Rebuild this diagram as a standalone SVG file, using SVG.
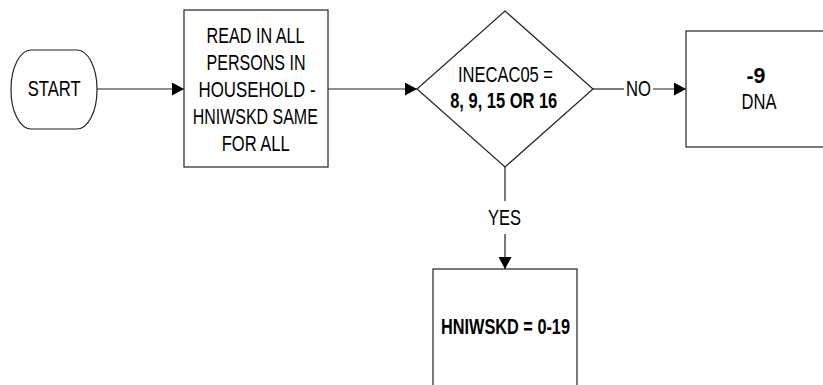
<svg xmlns="http://www.w3.org/2000/svg" width="823" height="385" viewBox="0 0 823 385">
<style>
.shape{fill:#fff;stroke:#222;stroke-width:1.2}
.line{fill:none;stroke:#222;stroke-width:1.2}
text{font-family:"Liberation Sans",Arial,sans-serif;font-size:22px;fill:#000;text-anchor:middle}
.b{font-weight:bold}
</style>
<defs>
<marker id="arr" viewBox="0 0 12 13" refX="12" refY="6.5" markerWidth="12" markerHeight="13" markerUnits="userSpaceOnUse" orient="auto">
<path d="M0,0 L12,6.5 L0,13 Z" fill="#000"/>
</marker>
</defs>
<rect width="823" height="385" fill="#fff"/>
<g id="connectors">
<line class="line" x1="97" y1="89" x2="184" y2="89" marker-end="url(#arr)"/>
<line class="line" x1="328" y1="89" x2="417" y2="89" marker-end="url(#arr)"/>
<line class="line" x1="592" y1="89" x2="624" y2="89"/>
<line class="line" x1="653" y1="89" x2="686" y2="89" marker-end="url(#arr)"/>
<text x="638.5" y="96" textLength="25" lengthAdjust="spacingAndGlyphs">NO</text>
<line class="line" x1="505" y1="167" x2="505" y2="201"/>
<line class="line" x1="505" y1="234" x2="505" y2="269" marker-end="url(#arr)"/>
<text x="504.5" y="225" textLength="33" lengthAdjust="spacingAndGlyphs">YES</text>
</g>
<g id="start">
<rect class="shape" x="11" y="50" width="86" height="79" rx="20" ry="39"/>
<text x="54.2" y="96" textLength="53" lengthAdjust="spacingAndGlyphs">START</text>
</g>
<g id="read">
<rect class="shape" x="184" y="10" width="144" height="157"/>
<text x="255.5" y="42.5" textLength="98" lengthAdjust="spacingAndGlyphs">READ IN ALL</text>
<text x="256" y="69.5" textLength="99" lengthAdjust="spacingAndGlyphs">PERSONS IN</text>
<text x="257" y="96.5" textLength="117" lengthAdjust="spacingAndGlyphs">HOUSEHOLD -</text>
<text x="255.3" y="124" textLength="125" lengthAdjust="spacingAndGlyphs">HNIWSKD SAME</text>
<text x="255.7" y="151" textLength="68" lengthAdjust="spacingAndGlyphs">FOR ALL</text>
</g>
<g id="decision">
<polygon class="shape" points="505,11 593,89 505,167 417,89"/>
<text x="505.5" y="81.5" textLength="95" lengthAdjust="spacingAndGlyphs">INECAC05 =</text>
<text class="b" x="503.7" y="108" textLength="107" lengthAdjust="spacingAndGlyphs">8, 9, 15 OR 16</text>
</g>
<g id="dna">
<rect class="shape" x="686" y="31" width="150" height="116"/>
<text class="b" x="756" y="82.5" textLength="19" lengthAdjust="spacingAndGlyphs">-9</text>
<text x="759" y="109" textLength="35" lengthAdjust="spacingAndGlyphs">DNA</text>
</g>
<g id="result">
<rect class="shape" x="433" y="269" width="144" height="130"/>
<text class="b" x="505.5" y="334" textLength="129" lengthAdjust="spacingAndGlyphs">HNIWSKD = 0-19</text>
</g>
</svg>
